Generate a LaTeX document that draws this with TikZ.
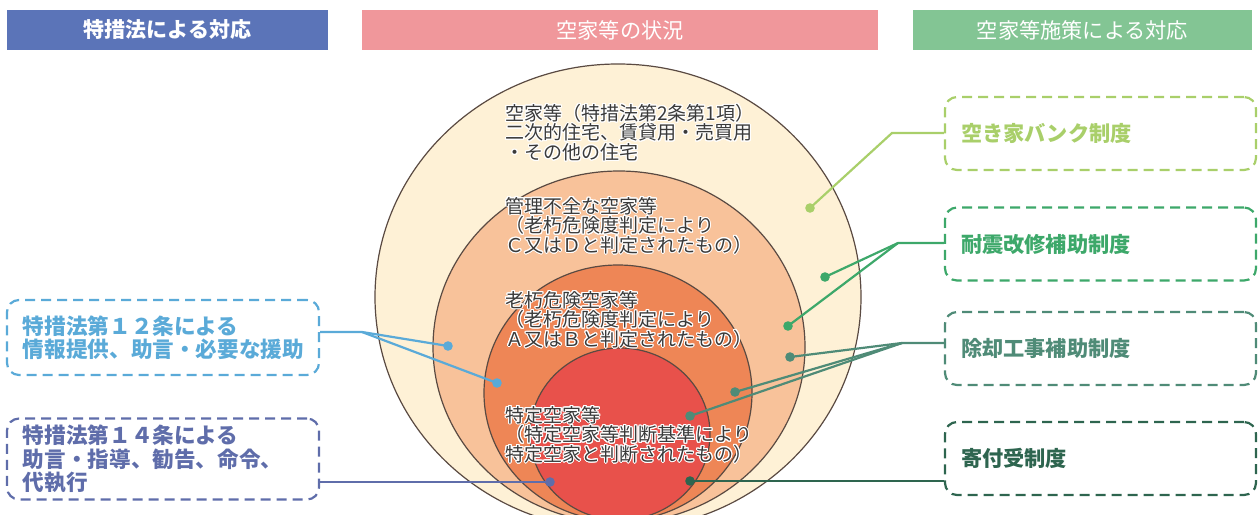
\documentclass[tikz,border=0pt]{standalone}
\usepackage{fontspec}
\newfontfamily\jp{Noto Sans CJK JP}
\usepackage{contour}
\contourlength{0.5pt}
\usepackage{tikz}
\usetikzlibrary{positioning}
\definecolor{hdrBlue}{HTML}{5B74B8}
\definecolor{hdrPink}{HTML}{F0979B}
\definecolor{hdrGreen}{HTML}{83C594}
\definecolor{ringA}{HTML}{FEF1D6}
\definecolor{ringB}{HTML}{F8C29A}
\definecolor{ringC}{HTML}{EE8656}
\definecolor{ringD}{HTML}{E8514B}
\definecolor{ringLine}{HTML}{5A4A42}
\definecolor{txtInk}{HTML}{3A3A3A}
\definecolor{lawBlue}{HTML}{5AAAD8}
\definecolor{lawSlate}{HTML}{5F6DAA}
\definecolor{bankGreen}{HTML}{A9CF6A}
\definecolor{quakeGreen}{HTML}{3DA86A}
\definecolor{demoGreen}{HTML}{4F8B77}
\definecolor{donateGreen}{HTML}{2E654F}
\newcommand{\halo}[1]{\contour{white}{#1}}

\begin{document}
\begin{tikzpicture}[
  x=0.5pt, y=-0.5pt,
  font=\jp,
  header/.style={minimum height=20pt, inner sep=0pt, text=white, font=\jp\fontsize{10.6}{12}\selectfont},
  ringtext/.style={anchor=west, inner sep=0pt, align=left, text=txtInk, font=\jp\fontsize{9.5}{9.8}\selectfont},
  ring/.style={fill=#1, draw=ringLine, line width=0.6pt},
  planbox/.style={draw=#1, text=#1, dash pattern=on 5pt off 3pt, line width=1.1pt, rounded corners=6pt, minimum width=155.5pt, minimum height=36.5pt, text width=139.5pt, inner xsep=8pt, align=left, font=\jp\bfseries\fontsize{10.6}{12}\selectfont},
  lawbox/.style={planbox=#1, minimum width=156pt, minimum height=37.5pt, text width=140pt, font=\jp\bfseries\fontsize{10.8}{11.6}\selectfont},
  dot/.style={circle, fill=#1, inner sep=0pt, minimum size=4.8pt},
  link/.style={draw=#1, line width=1.1pt}
]
  \useasboundingbox (0,0) rectangle (1258,514);
  \clip (0,0) rectangle (1258,514);

  % column headers
  \node[header, fill=hdrBlue, minimum width=160.5pt, font=\jp\bfseries\fontsize{10.5}{12}\selectfont] (hdrLaw) at (167.5,30) {特措法による対応};
  \node[header, fill=hdrPink, minimum width=258pt] (hdrState) at (620,30) {空家等の状況};
  \node[header, fill=hdrGreen, minimum width=169.5pt] (hdrPlan) at (1082.5,30) {空家等施策による対応};

  % nested rings
  \path[ring=ringA] (618,297) ellipse [x radius=243, y radius=233];
  \path[ring=ringB] (619,347) ellipse [x radius=186, y radius=176];
  \path[ring=ringC] (618,393) ellipse [x radius=134, y radius=128];
  \path[ring=ringD] (620,434) ellipse [x radius=90, y radius=86];

  \node[ringtext] (txtA) at (505,133) {\halo{空家等（特措法第2条第1項）}\\\halo{二次的住宅、賃貸用・売買用}\\\halo{・その他の住宅}};
  \node[ringtext] (txtB) at (505,226) {\halo{管理不全な空家等}\\\halo{（老朽危険度判定により}\\\halo{Ｃ又はＤと判定されたもの）}};
  \node[ringtext] (txtC) at (505,320) {\halo{老朽危険空家等}\\\halo{（老朽危険度判定により}\\\halo{Ａ又はＢと判定されたもの）}};
  \node[ringtext] (txtD) at (505,435) {\halo{特定空家等}\\\halo{（特定空家等判断基準により}\\\halo{特定空家と判断されたもの）}};

  % left: measures under the act
  \node[lawbox=lawBlue] (law12) at (163,337.5) {特措法第１２条による\\情報提供、助言・必要な援助};
  \node[lawbox=lawSlate] (law14) at (163,459) {特措法第１４条による\\助言・指導、勧告、命令、\\代執行};

  % right: local schemes
  \node[planbox=bankGreen] (bank) at (1100.5,133.5) {空き家バンク制度};
  \node[planbox=quakeGreen] (quake) at (1100.5,244) {耐震改修補助制度};
  \node[planbox=demoGreen] (demo) at (1100.5,348.5) {除却工事補助制度};
  \node[planbox=donateGreen] (donate) at (1100.5,458.5) {寄付受制度};

  % dots
  \node[dot=lawBlue] (d12a) at (448,346) {};
  \node[dot=lawBlue] (d12b) at (497,383) {};
  \node[dot=lawSlate] (d14) at (550,482) {};
  \node[dot=bankGreen] (dBank) at (810,208) {};
  \node[dot=quakeGreen] (dQuakeA) at (825,277) {};
  \node[dot=quakeGreen] (dQuakeB) at (788,326) {};
  \node[dot=demoGreen] (dDemoA) at (790,357) {};
  \node[dot=demoGreen] (dDemoB) at (735,392) {};
  \node[dot=demoGreen] (dDemoC) at (690,416) {};
  \node[dot=donateGreen] (dDonate) at (690,481) {};

  % connectors
  \coordinate (j12) at (362,332);
  \coordinate (jBank) at (892,133);
  \coordinate (jQuake) at (898,243);
  \coordinate (jDemo) at (902,343);

  \draw[link=lawBlue] (law12.east |- j12) -- (j12) -- (d12a.center);
  \draw[link=lawBlue] (j12) -- (d12b.center);
  \draw[link=lawSlate] (law14.east |- d14) -- (d14.center);
  \draw[link=bankGreen] (bank.west |- jBank) -- (jBank) -- (dBank.center);
  \draw[link=quakeGreen] (quake.west |- jQuake) -- (jQuake) -- (dQuakeA.center);
  \draw[link=quakeGreen] (jQuake) -- (dQuakeB.center);
  \draw[link=demoGreen] (demo.west |- jDemo) -- (jDemo) -- (dDemoA.center);
  \draw[link=demoGreen] (jDemo) -- (dDemoB.center);
  \draw[link=demoGreen] (jDemo) -- (dDemoC.center);
  \draw[link=donateGreen] (donate.west |- dDonate) -- (dDonate.center);
\end{tikzpicture}
\end{document}
